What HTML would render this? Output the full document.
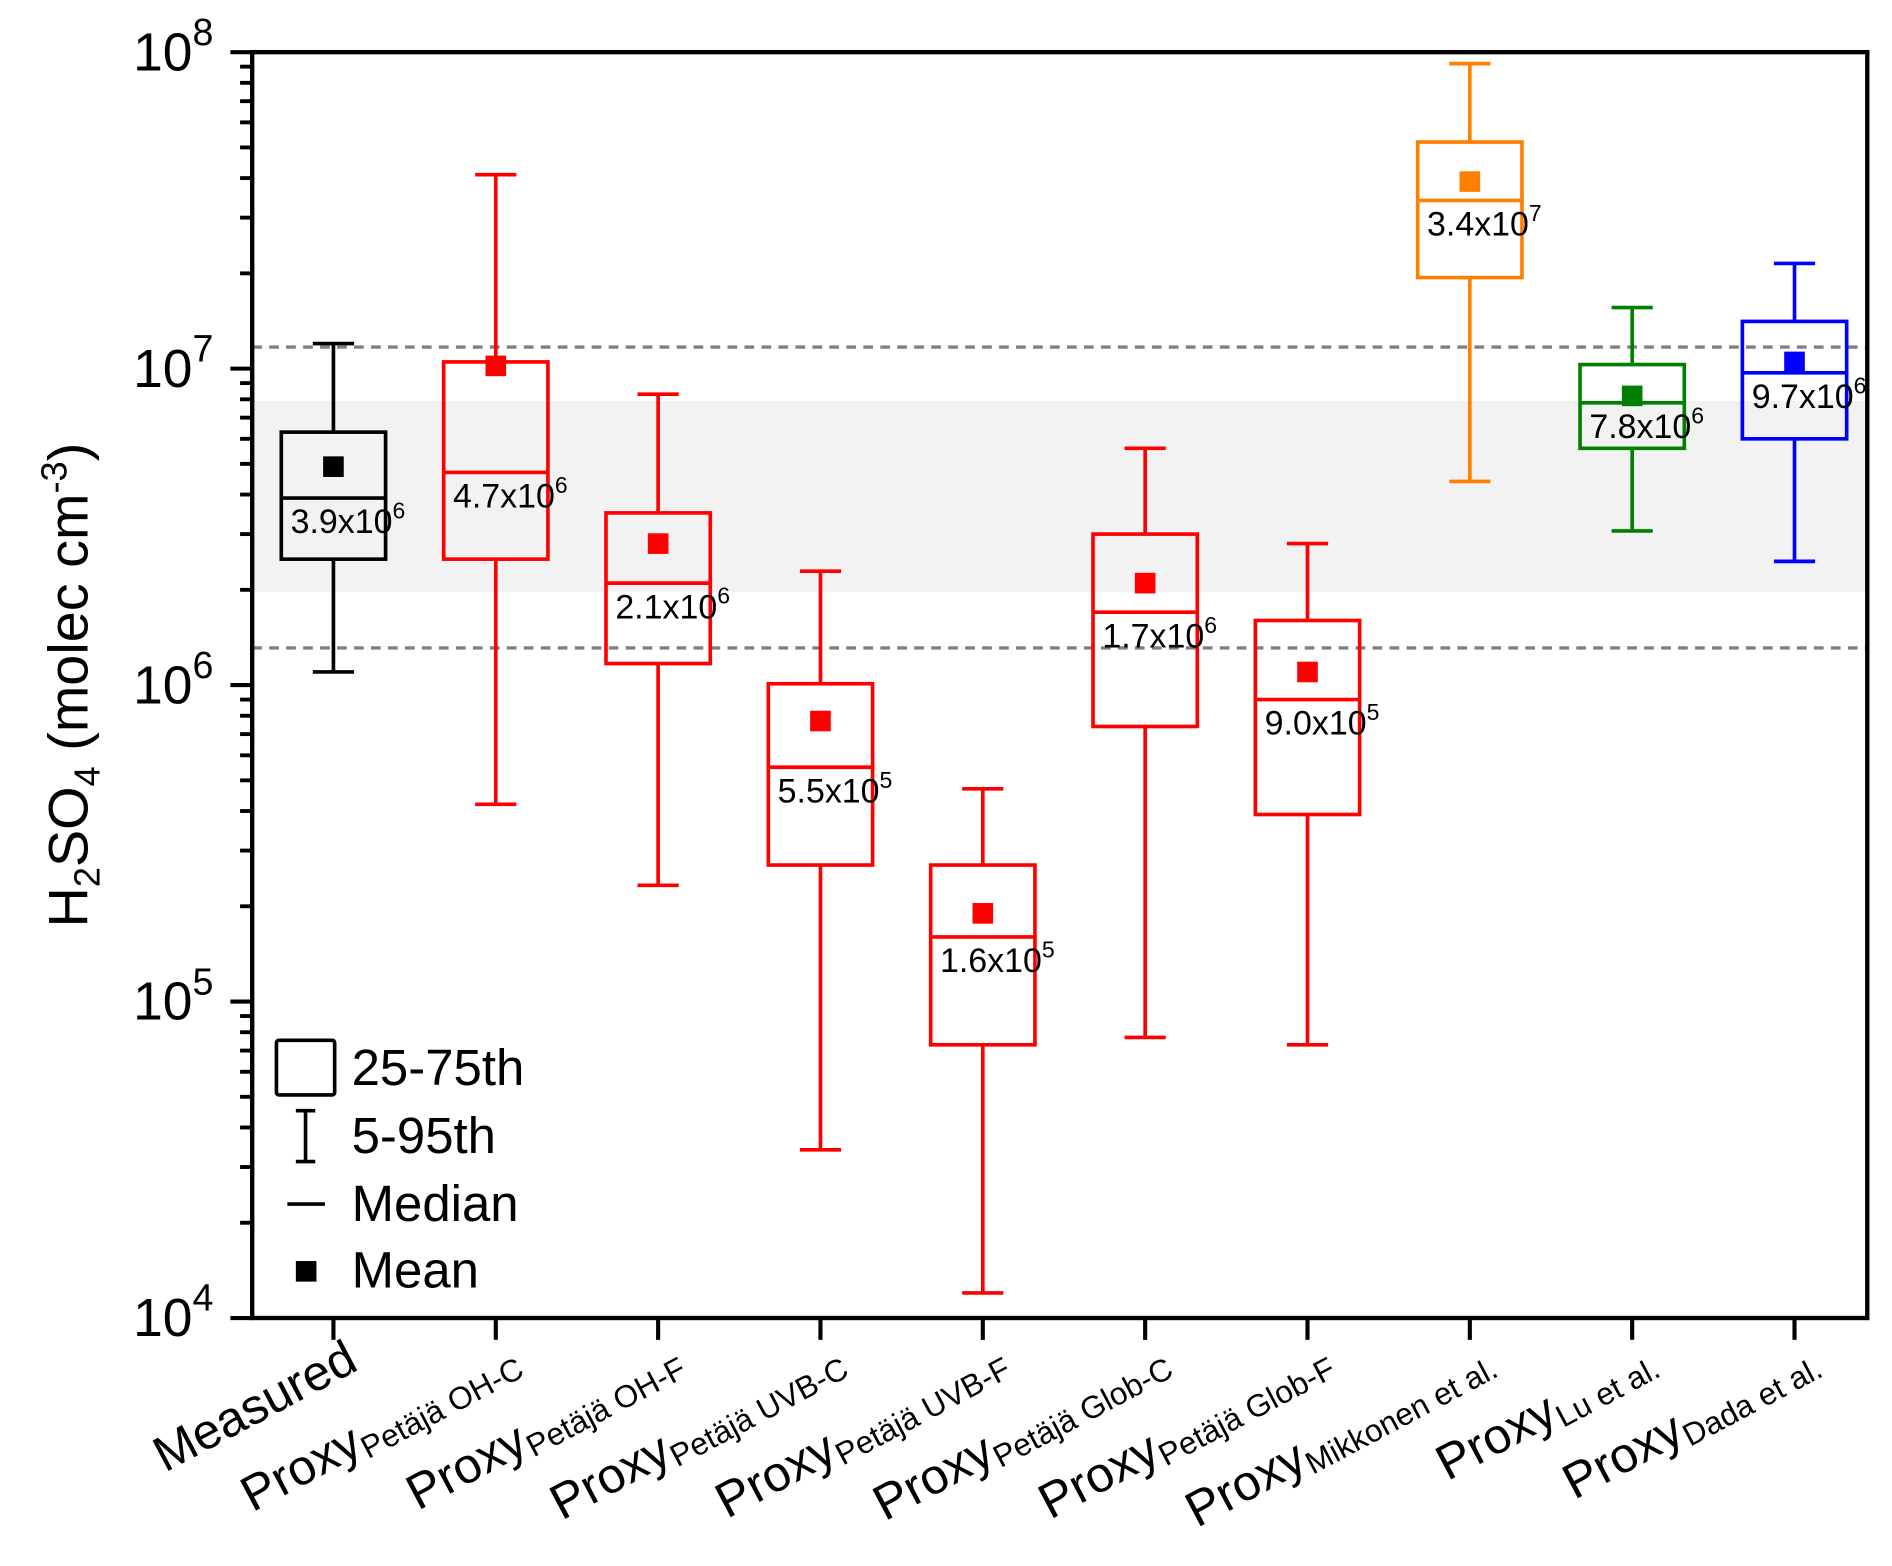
<!DOCTYPE html>
<html><head><meta charset="utf-8"><style>
html,body{margin:0;padding:0;background:#fff}
svg{display:block;font-family:"Liberation Sans",Arial,sans-serif}
</style></head><body>
<svg id="chart" width="1892" height="1566" viewBox="0 0 1560.4 1291.5" xmlns="http://www.w3.org/2000/svg"></svg>
<script>
const categories = ["Measured","OH-C","OH-F","UVB-C","UVB-F","Glob-C","Glob-F","Mikkonen","Lu","Dada"];
const subLabels = ["", "Petäjä OH-C","Petäjä OH-F","Petäjä UVB-C","Petäjä UVB-F","Petäjä Glob-C","Petäjä Glob-F","Mikkonen et al.","Lu et al.","Dada et al."];
const whiskerHigh = [1.2e7,4.1e7,8.3e6,2.29e6,4.7e5,5.6e6,2.8e6,9.2e7,1.56e7,2.15e7];
const q3 = [6.3e6,1.05e7,3.5e6,1.01e6,2.7e5,3.0e6,1.6e6,5.2e7,1.03e7,1.41e7];
const medians = [3.9e6,4.7e6,2.1e6,5.5e5,1.6e5,1.7e6,9.0e5,3.4e7,7.8e6,9.7e6];
const q1 = [2.5e6,2.5e6,1.17e6,2.7e5,7.3e4,7.4e5,3.9e5,1.94e7,5.6e6,6.0e6];
const whiskerLow = [1.1e6,4.2e5,2.33e5,3.4e4,1.2e4,7.7e4,7.3e4,4.4e6,3.07e6,2.46e6];
const means = [4.9e6,1.02e7,2.8e6,7.7e5,1.9e5,2.1e6,1.1e6,3.9e7,8.2e6,1.05e7];
const medianMantissa = ["3.9","4.7","2.1","5.5","1.6","1.7","9.0","3.4","7.8","9.7"];
const medianExp = ["6","6","6","5","5","6","5","7","6","6"];
const colors = ["#000","#f00","#f00","#f00","#f00","#f00","#f00","#ff8000","#008000","#0000ff"];
const bandRange = [1.97e6, 7.9e6];
const dashedLevels = [1.17e7, 1.31e6];
const yTickExps = [4,5,6,7,8];

const L=208,R=1540,T=43,B=1087;
const yMin=4,yMax=8;
const NS="http://www.w3.org/2000/svg";
const svg=document.getElementById('chart');
function y(v){return B-(Math.log10(v)-yMin)/(yMax-yMin)*(B-T);}
function x(i){return 275+i*(1480-275)/(categories.length-1);}
function el(tag,attrs,parent){const e=document.createElementNS(NS,tag);for(const k in attrs)e.setAttribute(k,attrs[k]);(parent||svg).appendChild(e);return e;}

let band=el('rect',{x:L,y:y(bandRange[1]),width:R-L,height:y(bandRange[0])-y(bandRange[1]),fill:'#f2f2f2'});


dashedLevels.forEach((v,i)=>{
  const d=el('line',{x1:L,x2:R,y1:y(v),y2:y(v),stroke:'#808080','stroke-width':2.8,'stroke-dasharray':'8 6'});
  
  
});

const hw=43, cap=34;
categories.forEach((c,i)=>{
  const g=el('g',{stroke:colors[i],'stroke-width':3,fill:'none'});
  
  
  const cx=x(i);
  el('line',{x1:cx,x2:cx,y1:y(whiskerHigh[i]),y2:y(q3[i])},g);
  el('line',{x1:cx,x2:cx,y1:y(q1[i]),y2:y(whiskerLow[i])},g);
  el('line',{x1:cx-cap/2,x2:cx+cap/2,y1:y(whiskerHigh[i]),y2:y(whiskerHigh[i])},g);
  el('line',{x1:cx-cap/2,x2:cx+cap/2,y1:y(whiskerLow[i]),y2:y(whiskerLow[i])},g);
  el('rect',{x:cx-hw,y:y(q3[i]),width:2*hw,height:y(q1[i])-y(q3[i])},g);
  el('line',{x1:cx-hw,x2:cx+hw,y1:y(medians[i]),y2:y(medians[i])},g);
  const m=el('rect',{x:cx-8.5,y:y(means[i])-8.5,width:17,height:17,fill:colors[i],stroke:'none'});
  
  
  const t=el('text',{x:cx+12,y:y(medians[i])+29,'font-size':28,'text-anchor':'middle',fill:'#000'});
  
  
  t.innerHTML=medianMantissa[i]+'x10<tspan dy="-12" font-size="19">'+medianExp[i]+'</tspan>';
});

let fr=el('rect',{x:L,y:T,width:R-L,height:B-T,fill:'none',stroke:'#000','stroke-width':3.6});


yTickExps.forEach(e=>{
  const yy=y(Math.pow(10,e));
  el('line',{x1:L-18,x2:L,y1:yy,y2:yy,stroke:'#000','stroke-width':3.4});
  const t=el('text',{x:176,y:yy+15,'font-size':44,'text-anchor':'end'});
  
  
  t.innerHTML='10<tspan dy="-21" font-size="31">'+e+'</tspan>';
  if(e<yMax){for(let k=2;k<=9;k++){const ym=y(k*Math.pow(10,e));el('line',{x1:L-10,x2:L,y1:ym,y2:ym,stroke:'#000','stroke-width':3.2});}}
});
categories.forEach((c,i)=>{
  const cx=x(i);
  el('line',{x1:cx,x2:cx,y1:B,y2:B+18,stroke:'#000','stroke-width':3.4});
  const t=el('text',{'text-anchor':'end','font-size':41,transform:`translate(${cx+22},${B+42}) rotate(-28)`});
  
  
  if(i===0)t.textContent='Measured';
  else t.innerHTML='Proxy<tspan dy="6" font-size="26">'+subLabels[i]+'</tspan>';
});
let yt=el('text',{transform:'translate(72,565) rotate(-90)','text-anchor':'middle','font-size':46});


yt.innerHTML='H<tspan dy="10" font-size="30">2</tspan><tspan dy="-10">SO</tspan><tspan dy="10" font-size="30">4</tspan><tspan dy="-10"> (molec cm</tspan><tspan dy="-17" font-size="30">-3</tspan><tspan dy="17">)</tspan>';

const lg=el('g',{});


el('rect',{x:228,y:858,width:48,height:45,fill:'none',stroke:'#000','stroke-width':3,rx:2},lg);
el('line',{x1:252,x2:252,y1:916,y2:958,stroke:'#000','stroke-width':3},lg);
el('line',{x1:244,x2:260,y1:916,y2:916,stroke:'#000','stroke-width':3},lg);
el('line',{x1:244,x2:260,y1:958,y2:958,stroke:'#000','stroke-width':3},lg);
el('line',{x1:237,x2:268,y1:993,y2:993,stroke:'#000','stroke-width':3},lg);
el('rect',{x:244,y:1040,width:17,height:17,fill:'#000'},lg);
[["25-75th",895],["5-95th",951],["Median",1007],["Mean",1062]].forEach(([s,yy])=>{
  const t=el('text',{x:290,y:yy,'font-size':42},lg);
  
  
  t.textContent=s;
});
</script>
</body></html>
